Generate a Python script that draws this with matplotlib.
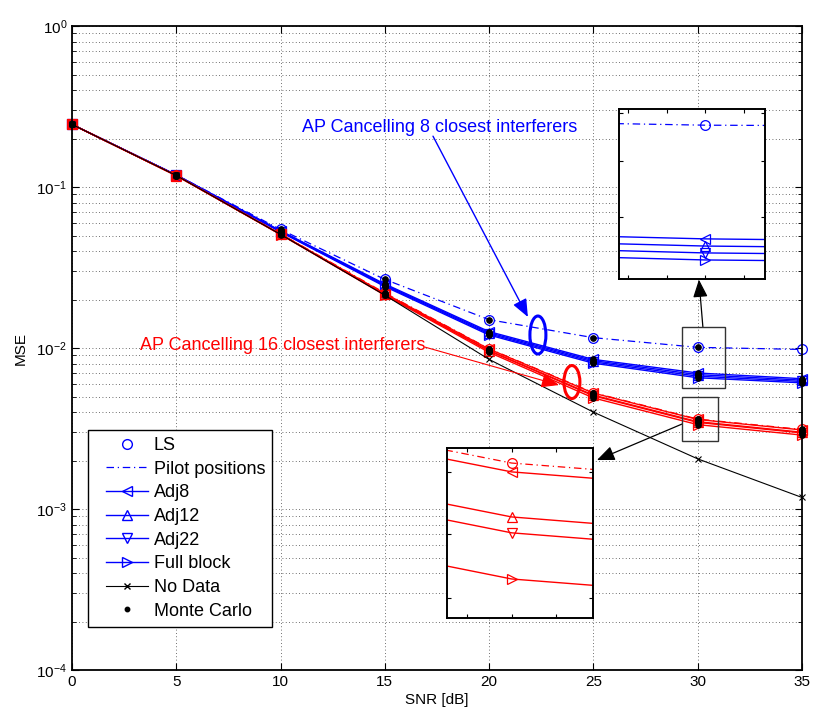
import matplotlib
matplotlib.use("Agg")
import matplotlib.pyplot as plt
from matplotlib.legend_handler import HandlerLine2D
from matplotlib.lines import Line2D
from matplotlib.patches import Ellipse, Rectangle
from matplotlib.ticker import MaxNLocator, NullFormatter, NullLocator
from matplotlib.transforms import IdentityTransform

plt.rcParams["font.family"] = ["Liberation Sans", "DejaVu Sans"]
plt.rcParams["mathtext.fontset"] = "custom"
plt.rcParams["mathtext.rm"] = "Liberation Sans"
plt.rcParams["mathtext.it"] = "Liberation Sans:italic"
plt.rcParams["mathtext.bf"] = "Liberation Sans:bold"

BLUE = (0, 0, 1)
RED = (1, 0, 0)
DASHDOT = (0, (6, 3, 1, 3))
MS = 7

snr = [0, 5, 10, 15, 20, 25, 30, 35]

# AP cancelling the 8 closest interferers
ls_8 = [0.245, 0.1190, 0.0545, 0.0267, 0.0150, 0.0116, 0.0101, 0.0098]
adj8_8 = [0.245, 0.1190, 0.0535, 0.0250, 0.01265, 0.00850, 0.00700, 0.00645]
adj12_8 = [0.245, 0.1188, 0.0532, 0.0247, 0.01245, 0.00835, 0.00684, 0.00632]
adj22_8 = [0.245, 0.1186, 0.0529, 0.0244, 0.01225, 0.00820, 0.00669, 0.00620]
full_8 = [0.245, 0.1184, 0.0526, 0.0241, 0.01205, 0.00805, 0.00654, 0.00608]

# AP cancelling the 16 closest interferers
ls_16 = [0.245, 0.1182, 0.0512, 0.0220, 0.00990, 0.00528, 0.003622, 0.00312]
adj8_16 = [0.245, 0.1180, 0.0510, 0.0218, 0.00985, 0.00525, 0.003600, 0.00310]
adj12_16 = [0.245, 0.1179, 0.0509, 0.0216, 0.00965, 0.00510, 0.003490, 0.00300]
adj22_16 = [0.245, 0.1178, 0.0508, 0.0215, 0.00960, 0.00505, 0.003452, 0.00297]
full_16 = [0.245, 0.1177, 0.0507, 0.0213, 0.00940, 0.00490, 0.003344, 0.00288]

no_data = [0.245, 0.1180, 0.0508, 0.0213, 0.00850, 0.00400, 0.00205, 0.00118]

adj_markers = ["<", "^", "v", ">"]
legend_labels = ["LS", "Pilot positions", "Adj8", "Adj12", "Adj22", "Full block", "No Data", "Monte Carlo"]


def draw_family(axis, ls, curves, color, clip=True):
    axis.plot(snr, ls, linestyle=DASHDOT, color=color, lw=0.9, clip_on=clip)
    axis.plot(snr, ls, linestyle="none", marker="o", mfc="none", mec=color, ms=MS, mew=0.9, clip_on=clip)
    for vals, mk in zip(curves, adj_markers):
        axis.plot(snr, vals, color=color, lw=1.0, marker=mk, mfc="none", mec=color,
                  ms=MS, mew=0.9, clip_on=clip)


def style_inset(axis):
    axis.set_yscale("log")
    axis.set_facecolor("white")
    axis.yaxis.set_major_locator(MaxNLocator(4))
    axis.yaxis.set_minor_locator(NullLocator())
    axis.yaxis.set_major_formatter(NullFormatter())
    axis.xaxis.set_major_locator(MaxNLocator(4))
    axis.tick_params(which="both", direction="in", top=True, right=True, length=3,
                     labelbottom=False, labelleft=False)
    for sp in axis.spines.values():
        sp.set_linewidth(1.4)


fig = plt.figure(figsize=(8.15, 7.16), dpi=100)
ax = fig.add_axes([0.0883, 0.0642, 0.8957, 0.8994])
ax.set_yscale("log")

draw_family(ax, ls_8, [adj8_8, adj12_8, adj22_8, full_8], BLUE, clip=False)
draw_family(ax, ls_16, [adj8_16, adj12_16, adj22_16, full_16], RED, clip=False)
ax.plot(snr, no_data, color="k", lw=0.8, marker="x", ms=5, mew=0.8, clip_on=False)

# Monte Carlo runs on top of the analytic curves
for vals in [adj8_8, adj12_8, adj22_8, full_8, adj8_16, adj12_16, adj22_16, full_16, ls_16]:
    ax.plot(snr, vals, linestyle="none", marker="o", ms=3.8, color="k", clip_on=False, zorder=4)
ax.plot(snr[:7], ls_8[:7], linestyle="none", marker="o", ms=3.8, color="k", clip_on=False, zorder=4)

ax.set_xlim(0, 35)
ax.set_ylim(1e-4, 1)
ax.set_xticks(snr)
ax.grid(True, which="major", axis="both", linestyle=(0, (1, 3)), color="0.25", lw=0.6)
ax.grid(True, which="minor", axis="y", linestyle=(0, (1, 3)), color="0.25", lw=0.6)
ax.tick_params(which="both", direction="in", top=True, right=True, labelsize=11)
ax.tick_params(which="major", length=5)
ax.tick_params(which="minor", length=3)
for sp in ax.spines.values():
    sp.set_linewidth(1.3)
ax.set_xlabel("SNR [dB]", fontsize=11, labelpad=3)
ax.set_ylabel("MSE", fontsize=11, labelpad=6)

# annotations for the two cancelling scenarios
ax.text(17.64, 0.236, "AP Cancelling 8 closest interferers", color=BLUE, fontsize=13,
        ha="center", va="center")
ax.annotate("", xy=(21.86, 0.0156), xytext=(17.31, 0.207),
            arrowprops=dict(arrowstyle="-|>,head_length=0.6,head_width=0.25", color=BLUE,
                            lw=1.0, mutation_scale=18, shrinkA=0, shrinkB=0))
ax.text(10.12, 0.0104, "AP Cancelling 16 closest interferers", color=RED, fontsize=13,
        ha="center", va="center")
ax.annotate("", xy=(23.35, 0.00589), xytext=(16.92, 0.01014),
            arrowprops=dict(arrowstyle="-|>,head_length=0.6,head_width=0.25", color=RED,
                            lw=0.8, mutation_scale=18, shrinkA=0, shrinkB=0))

for (ex, ey, eh), col in [((22.34, 0.01205, 38), BLUE), ((23.97, 0.00615, 33), RED)]:
    cx, cy = ax.transData.transform((ex, ey))
    fig.add_artist(Ellipse((cx, cy), 16, eh, transform=IdentityTransform(),
                           fill=False, ec=col, lw=2.2))

# zoom boxes and arrows to the insets
ax.add_patch(Rectangle((29.27, 0.00562), 2.04, 0.01345 - 0.00562, fill=False, ec="0.2", lw=1.0, zorder=5))
ax.add_patch(Rectangle((29.27, 0.002655), 1.71, 0.00499 - 0.002655, fill=False, ec="0.2", lw=1.0, zorder=5))
ax.annotate("", xy=(30.06, 0.0266), xytext=(30.25, 0.0135), annotation_clip=False,
            arrowprops=dict(arrowstyle="-|>,head_length=0.6,head_width=0.25", color="k",
                            lw=0.9, mutation_scale=18, shrinkA=0, shrinkB=0))
ax.annotate("", xy=(25.17, 0.002015), xytext=(29.25, 0.003373), annotation_clip=False,
            arrowprops=dict(arrowstyle="-|>,head_length=0.6,head_width=0.25", color="k",
                            lw=0.9, mutation_scale=18, shrinkA=0, shrinkB=0))

handles = [
    Line2D([], [], linestyle="none", marker="o", mfc="none", mec=BLUE, ms=MS),
    Line2D([], [], linestyle=DASHDOT, color=BLUE, lw=0.9),
] + [
    Line2D([], [], color=BLUE, lw=1.0, marker=mk, mfc="none", mec=BLUE, ms=MS)
    for mk in adj_markers
] + [
    Line2D([], [], color="k", lw=0.8, marker="x", ms=5),
    Line2D([], [], linestyle="none", marker="o", color="k", ms=3.2),
]
leg = ax.legend(handles, legend_labels, loc="lower left", bbox_to_anchor=(0.022, 0.067),
                fontsize=13, fancybox=False, edgecolor="k", framealpha=1, labelspacing=0.37,
                handlelength=2.9, handletextpad=0.33, borderpad=0.4, borderaxespad=0,
                handler_map={Line2D: HandlerLine2D(xpad=0.6)})
leg.get_frame().set_linewidth(1.0)

# inset: 8 interferers around 30 dB
ins1 = fig.add_axes([0.760, 0.6103, 0.1788, 0.237])
draw_family(ins1, ls_8, [adj8_8, adj12_8, adj22_8, full_8], BLUE)
style_inset(ins1)
ins1.set_xlim(29.823, 30.123)
ins1.set_ylim(0.00615, 0.01063)

# inset: 16 interferers around 30 dB
ins2 = fig.add_axes([0.5488, 0.1373, 0.1791, 0.2366])
draw_family(ins2, ls_16, [adj8_16, adj12_16, adj22_16, full_16], RED)
style_inset(ins2)
ins2.set_xlim(29.884, 30.147)
ins2.set_ylim(0.003256, 0.003659)

fig.savefig("out.png", dpi=100)
